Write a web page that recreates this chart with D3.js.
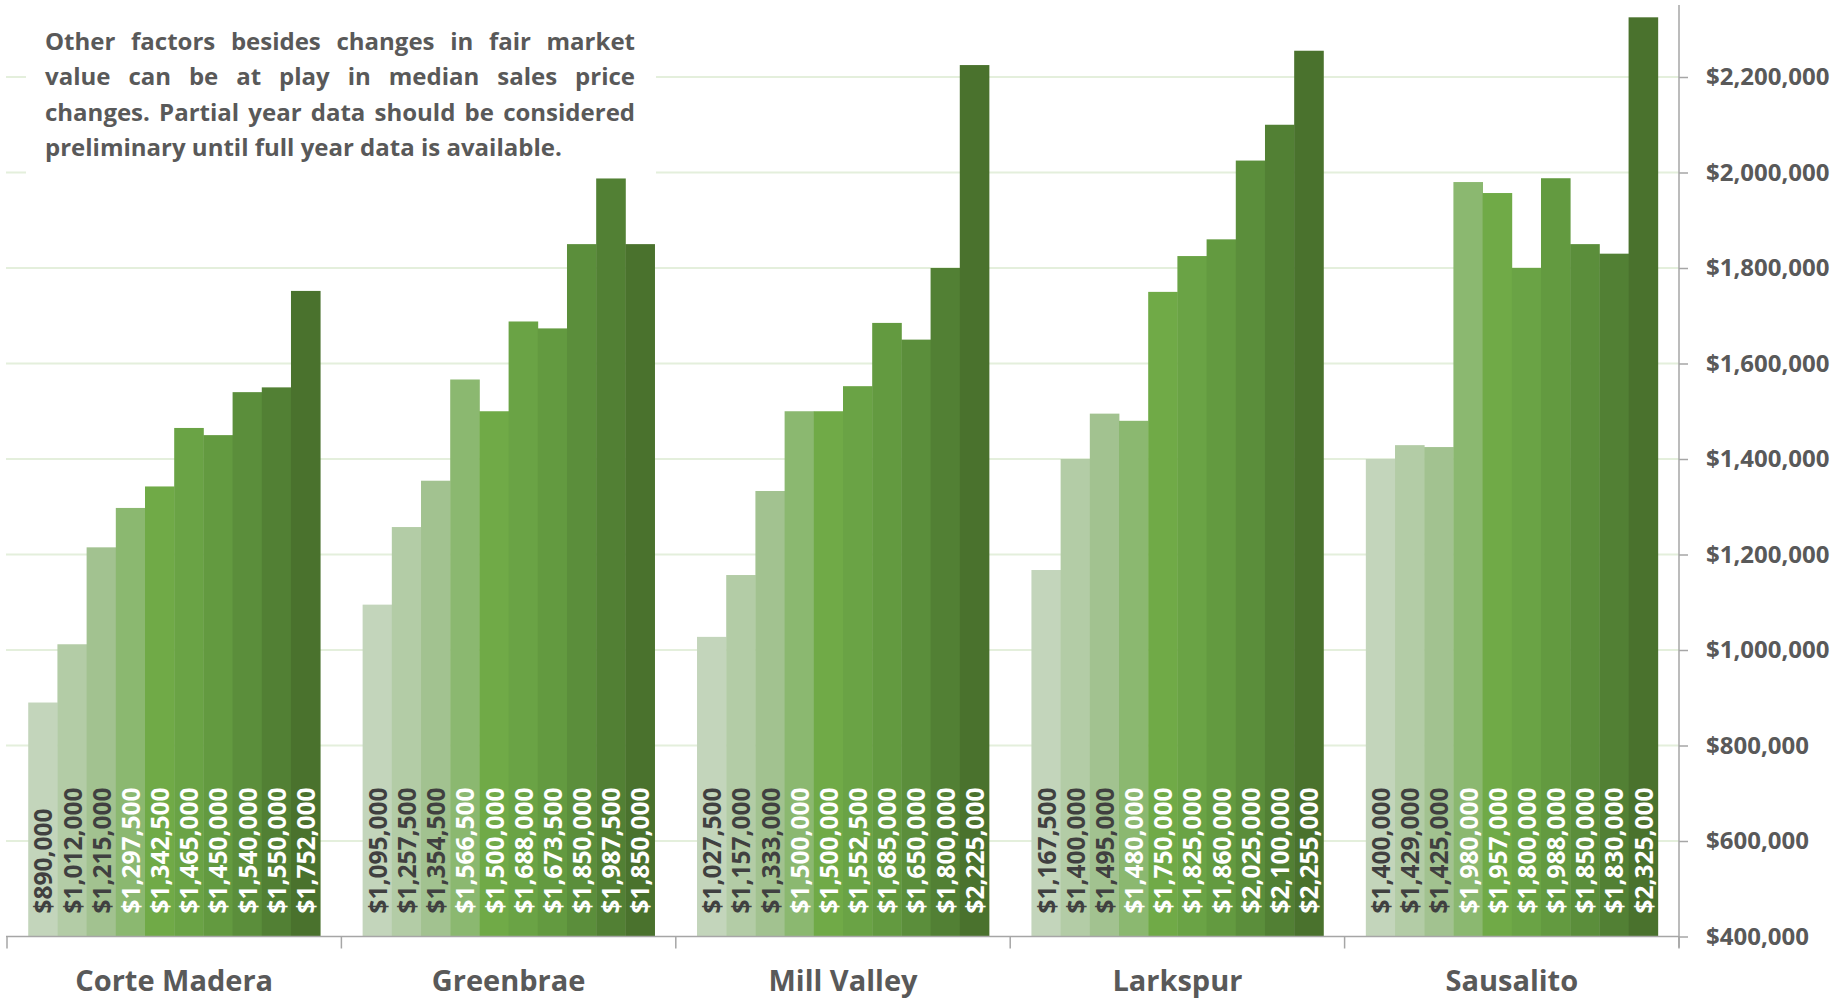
<!DOCTYPE html>
<html>
<head>
<meta charset="utf-8">
<script src="https://cdn.jsdelivr.net/npm/d3@7"></script>
<style>
  body { margin: 0; background: #fff; }
  svg { display: block; font-family: "Open Sans", "Noto Sans", sans-serif; }
</style>
</head>
<body>
<div id="chart"></div>
<script>
// towns along the x axis
var towns = ["Corte Madera", "Greenbrae", "Mill Valley", "Larkspur", "Sausalito"];

// median sales price, ten periods per town (oldest first)
var cortMadera = [890000, 1012000, 1215000, 1297500, 1342500, 1465000, 1450000, 1540000, 1550000, 1752000];
var greenbrae  = [1095000, 1257500, 1354500, 1566500, 1500000, 1688000, 1673500, 1850000, 1987500, 1850000];
var millValley = [1027500, 1157000, 1333000, 1500000, 1500000, 1552500, 1685000, 1650000, 1800000, 2225000];
var larkspur   = [1167500, 1400000, 1495000, 1480000, 1750000, 1825000, 1860000, 2025000, 2100000, 2255000];
var sausalito  = [1400000, 1429000, 1425000, 1980000, 1957000, 1800000, 1988000, 1850000, 1830000, 2325000];

var yTicks = [400000, 600000, 800000, 1000000, 1200000, 1400000, 1600000, 1800000, 2000000, 2200000];

var noteLines = [
    "Other factors besides changes in fair market",
    "value can be at play in median sales price",
    "changes. Partial year data should be considered",
    "preliminary until full year data is available."
];

var seriesColors = ["#c3d5bb", "#b3cca6", "#a2c290", "#8bb870", "#70aa47",
                    "#6aa345", "#639a40", "#5b8e3b", "#528034", "#4a722d"];

var values = [cortMadera, greenbrae, millValley, larkspur, sausalito];
var data = [];
towns.forEach(function(t, i) {
    values[i].forEach(function(v, j) {
        data.push({ town: t, series: j, value: v });
    });
});

var W = 1845, H = 998;
var left = 7, right = 1679, base = 936.5;

var svg = d3.select("#chart").append("svg")
    .attr("width", W)
    .attr("height", H);

var x = d3.scaleBand().domain(towns).range([left, right]).padding(0);
var xs = d3.scaleBand().domain(d3.range(10)).range([0, x.bandwidth()])
    .paddingInner(0).paddingOuter(0.727);
var y = d3.scaleLinear().domain([400000, 2400000]).range([base, base - 955]);

// gridlines
svg.append("g")
    .selectAll("line")
    .data(yTicks.slice(1))
    .enter().append("line")
    .attr("x1", 6).attr("x2", right)
    .attr("y1", function(d) { return y(d); })
    .attr("y2", function(d) { return y(d); })
    .attr("stroke", "#e4efdc")
    .attr("stroke-width", 2);

// note box hides the grid behind it
svg.append("rect")
    .attr("x", 26).attr("y", 0)
    .attr("width", 630).attr("height", 176)
    .attr("fill", "#fff");

// bars
svg.append("g")
    .selectAll("rect")
    .data(data)
    .enter().append("rect")
    .attr("x", function(d) { return x(d.town) + xs(d.series); })
    .attr("y", function(d) { return y(d.value); })
    .attr("width", xs.bandwidth() + 0.4)
    .attr("height", function(d) { return base - y(d.value); })
    .attr("fill", function(d) { return seriesColors[d.series]; });

// value labels, rotated inside the bars
var fmt = d3.format("$,");
svg.append("g")
    .selectAll("text")
    .data(data)
    .enter().append("text")
    .attr("transform", function(d) {
        var cx = x(d.town) + xs(d.series) + xs.bandwidth() / 2;
        return "translate(" + cx + "," + (base - 23) + ")rotate(-90)";
    })
    .attr("dominant-baseline", "central")
    .attr("text-anchor", "start")
    .style("font-size", "24.5px")
    .style("font-weight", "bold")
    .attr("fill", function(d) { return d.series < 3 ? "#404040" : "#ffffff"; })
    .text(function(d) { return fmt(d.value); });

// bottom axis with ticks between the towns
var bottom = svg.append("g");
bottom.append("line")
    .attr("x1", 6).attr("x2", right)
    .attr("y1", base).attr("y2", base)
    .attr("stroke", "#a6a6a6").attr("stroke-width", 1.5);
bottom.selectAll(".sep")
    .data(towns.concat(["end"]))
    .enter().append("line")
    .attr("class", "sep")
    .attr("x1", function(d, i) { return left + i * x.step(); })
    .attr("x2", function(d, i) { return left + i * x.step(); })
    .attr("y1", base).attr("y2", base + 12)
    .attr("stroke", "#a6a6a6").attr("stroke-width", 1.5);
bottom.selectAll(".town")
    .data(towns)
    .enter().append("text")
    .attr("class", "town")
    .attr("x", function(d) { return x(d) + x.bandwidth() / 2; })
    .attr("y", 991)
    .attr("text-anchor", "middle")
    .style("font-size", "29px")
    .style("font-weight", "bold")
    .attr("fill", "#595959")
    .text(function(d) { return d; });

// right value axis
var yAxis = svg.append("g")
    .attr("transform", "translate(" + right + ",0)")
    .call(d3.axisRight(y).tickValues(yTicks).tickSize(9).tickPadding(18).tickFormat(fmt));
yAxis.select(".domain").remove();
yAxis.selectAll(".tick line").attr("stroke", "#a6a6a6").attr("stroke-width", 1.5);
yAxis.selectAll(".tick text")
    .attr("fill", "#595959")
    .style("font-family", "'Open Sans', 'Noto Sans', sans-serif")
    .style("font-size", "24px")
    .style("font-weight", "bold");
yAxis.append("line")
    .attr("x1", 0).attr("x2", 0)
    .attr("y1", 5).attr("y2", base + 11)
    .attr("stroke", "#a6a6a6").attr("stroke-width", 1.5);

// note text, justified except the last line
var noteX = 45, noteW = 590, noteY = 50, lineGap = 35.3;
var note = svg.append("g")
    .style("font-size", "24px")
    .style("font-weight", "bold")
    .attr("fill", "#595959");
noteLines.forEach(function(line, i) {
    var words = line.split(" ");
    var ty = noteY + i * lineGap;
    if (i === noteLines.length - 1) {
        note.append("text").attr("x", noteX).attr("y", ty).text(line);
        return;
    }
    var nodes = words.map(function(w) {
        return note.append("text").attr("y", ty).text(w);
    });
    var widths = nodes.map(function(n) { return n.node().getComputedTextLength(); });
    var gap = (noteW - d3.sum(widths)) / (words.length - 1);
    var cx = noteX;
    nodes.forEach(function(n, k) {
        n.attr("x", cx);
        cx += widths[k] + gap;
    });
});
</script>
</body>
</html>
